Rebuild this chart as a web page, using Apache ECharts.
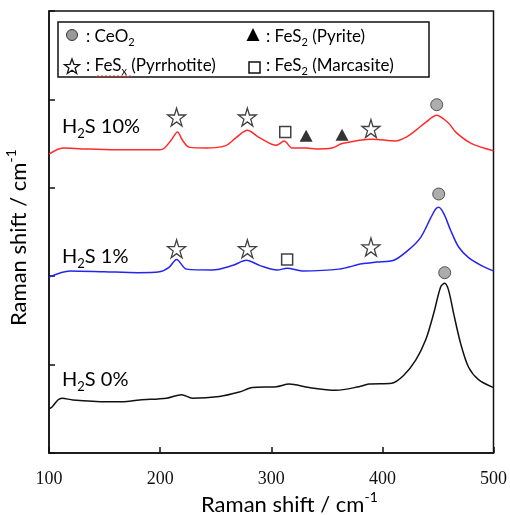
<!DOCTYPE html>
<html lang="en">
<head>
    <meta charset="UTF-8">
    <title>Raman</title>
    <script src="https://cdn.jsdelivr.net/npm/echarts@6/dist/echarts.min.js"></script>
    <style>
        body { margin: 0; background: #fff; }
    </style>
</head>
<body>
    <div style="height: 515px;width: 510px" id="ramanChart"></div>
    <script type="text/javascript">
        // x ticks
        var xTicks = [100, 200, 300, 400, 500];

        // spectra [shift, offset intensity]
        var h2s10 = [[100,3.38],[112.6,3.45],[130,3.44],[160,3.43],[180,3.43],[199.5,3.43],[204,3.45],[210,3.54],[215.7,3.63],[220,3.54],[226,3.46],[241.7,3.45],[259.6,3.48],[268.6,3.57],[278.5,3.65],[289,3.57],[304.5,3.48],[311.7,3.53],[318.8,3.45],[331.4,3.45],[340.4,3.44],[354.7,3.45],[363.7,3.5],[390.6,3.55],[412,3.53],[421,3.57],[430,3.65],[439,3.74],[448.9,3.82],[459.6,3.73],[466,3.63],[480.3,3.5],[500,3.42]];
        var h2s1 = [[100,1.99],[118.8,2.06],[150,2.05],[180,2.04],[199.5,2.05],[208,2.1],[214.8,2.19],[223.8,2.08],[247,2.07],[265,2.12],[277.6,2.18],[290,2.12],[305.4,2.07],[314.3,2.09],[327.8,2.06],[361,2.08],[381.6,2.14],[394.6,2.16],[410.3,2.18],[423.8,2.3],[434.5,2.44],[443.5,2.66],[448,2.76],[450.7,2.78],[455.2,2.71],[461.4,2.52],[468.6,2.33],[477.6,2.21],[489.2,2.12],[500,2.06]];
        var h2s0 = [[100,0.5],[102.7,0.52],[108,0.6],[111.7,0.62],[121.5,0.6],[152,0.58],[166,0.58],[181.6,0.6],[205.8,0.62],[219.3,0.66],[229.1,0.62],[253.4,0.64],[271.3,0.69],[283,0.74],[304.5,0.75],[316.1,0.78],[334,0.74],[358.3,0.71],[378.9,0.75],[387.9,0.78],[408.5,0.79],[419.3,0.88],[430,1.05],[439,1.28],[446.2,1.58],[452.5,1.88],[456.1,1.92],[459.6,1.84],[464.1,1.58],[470.4,1.24],[477.6,0.97],[486.5,0.83],[500,0.74]];

        // peak assignments
        var ceo2Marks = [[448.9,3.94],[450.7,2.93],[456.1,2.04]];
        var pyrrhotiteMarks = [[214.8,3.8],[278.5,3.8],[389.7,3.67],[214.8,2.31],[278.5,2.31],[389.7,2.33]];
        var marcasiteMarks = [[312.6,3.63],[314.3,2.19]];
        var pyriteMarks = [[331.4,3.59],[363.7,3.6]];

        var starPath = 'path://M50,0 L61,35 L98,35 L68,57 L79,91 L50,70 L21,91 L32,57 L2,35 L39,35 Z';
        var txtFont = 'Lato, "Open Sans", sans-serif';

        function richSet(size) {
            return {
                n: { fontSize: size, fontFamily: txtFont, color: '#111', verticalAlign: 'bottom', lineHeight: size + 4 },
                s: { fontSize: Math.round(size * 0.65), fontFamily: txtFont, color: '#111', verticalAlign: 'bottom', lineHeight: 14, padding: [0, 0, -3, 0] },
                p: { fontSize: Math.round(size * 0.65), fontFamily: txtFont, color: '#111', verticalAlign: 'top', lineHeight: 12 }
            };
        }

        function label(x, y, text, size) {
            return { type: 'text', x: x, y: y, style: { text: text, rich: richSet(size), verticalAlign: 'top' } };
        }

        var myChart = echarts.init(document.getElementById('ramanChart'));
        var option = {
            animation: false,
            grid: { left: 49, right: 15, top: 11, bottom: 62, show: true, borderColor: '#111', borderWidth: 1.5 },
            xAxis: {
                type: 'value', min: 100, max: 500, interval: 100,
                axisLine: { lineStyle: { color: '#111', width: 1.5 } },
                axisTick: { inside: true, length: 6, lineStyle: { color: '#111', width: 1.5 } },
                axisLabel: {
                    margin: 17, fontSize: 18, color: '#111', fontFamily: '"Liberation Serif", "DejaVu Serif", serif',
                    formatter: function (v) { return xTicks.indexOf(v) >= 0 ? String(v) : ''; }
                },
                splitLine: { show: false }
            },
            yAxis: {
                type: 'value', min: 0, max: 5, interval: 1,
                axisLine: { show: true, lineStyle: { color: '#111', width: 1.5 } },
                axisTick: { show: true, inside: true, length: 6, lineStyle: { color: '#111', width: 1.5 } },
                axisLabel: { show: false },
                splitLine: { show: false }
            },
            series: [
                { type: 'line', data: h2s10, showSymbol: false, smooth: 0.3, lineStyle: { color: '#ff2a2a', width: 1.5 } },
                { type: 'line', data: h2s1, showSymbol: false, smooth: 0.3, lineStyle: { color: '#2424ee', width: 1.5 } },
                { type: 'line', data: h2s0, showSymbol: false, smooth: 0.3, lineStyle: { color: '#111', width: 1.5 } },
                { type: 'scatter', data: ceo2Marks, symbol: 'circle', symbolSize: 12, itemStyle: { color: '#999', borderColor: '#333', borderWidth: 1 } },
                { type: 'scatter', data: pyrrhotiteMarks, symbol: starPath, symbolSize: 18, itemStyle: { color: '#fff', borderColor: '#111', borderWidth: 1.3 } },
                { type: 'scatter', data: marcasiteMarks, symbol: 'rect', symbolSize: 11, itemStyle: { color: '#fff', borderColor: '#111', borderWidth: 1.5 } },
                { type: 'scatter', data: pyriteMarks, symbol: 'triangle', symbolSize: [13, 12], itemStyle: { color: '#000' } }
            ],
            graphic: [
                // legend box
                { type: 'rect', shape: { x: 58, y: 22, width: 371, height: 55 }, style: { fill: '#fff', stroke: '#111', lineWidth: 1.5 } },
                { type: 'circle', shape: { cx: 72, cy: 35, r: 5.5 }, style: { fill: '#999', stroke: '#333', lineWidth: 1 } },
                label(86, 24, '{n|: CeO}{s|2}', 17),
                { type: 'polygon', shape: { points: [[72,59],[73.94,64.33],[79.61,64.53],[75.14,68.02],[76.7,73.47],[72,70.3],[67.3,73.47],[68.86,68.02],[64.39,64.53],[70.06,64.33]] }, style: { fill: '#fff', stroke: '#111', lineWidth: 1.3 } },
                label(86, 53, '{n|: FeS}{s|x}{n| (Pyrrhotite)}', 17),
                { type: 'polyline', shape: { points: [[96,77],[98,75.5],[100,77],[102,75.5],[104,77],[106,75.5],[108,77],[110,75.5],[112,77],[114,75.5],[116,77],[118,75.5],[120,77],[122,75.5],[124,77],[126,75.5],[128,77],[130,75.5],[132,77]] }, style: { stroke: '#e33', lineWidth: 0.8, fill: null } },
                { type: 'polygon', shape: { points: [[253,28],[259.5,41],[246.5,41]] }, style: { fill: '#000' } },
                label(266, 24, '{n|: FeS}{s|2}{n| (Pyrite)}', 17),
                { type: 'rect', shape: { x: 249, y: 62, width: 11, height: 11 }, style: { fill: '#fff', stroke: '#111', lineWidth: 1.5 } },
                label(266, 53, '{n|: FeS}{s|2}{n| (Marcasite)}', 17),
                // curve labels
                label(62, 113, '{n|H}{s|2}{n|S 10%}', 20),
                label(62, 243, '{n|H}{s|2}{n|S 1%}', 20),
                label(62, 366, '{n|H}{s|2}{n|S 0%}', 20),
                // axis names
                label(201, 490, '{n|Raman shift / cm}{p|-1}', 22),
                { type: 'text', x: 4, y: 326, rotation: Math.PI / 2, style: { text: '{n|Raman shift / cm}{p|-1}', rich: richSet(22), verticalAlign: 'top' } }
            ]
        };
        myChart.setOption(option);
    </script>
</body>
</html>
